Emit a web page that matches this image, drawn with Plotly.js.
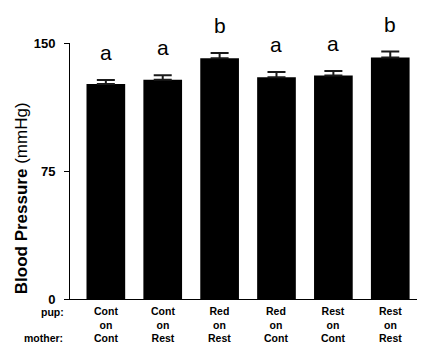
<!DOCTYPE html>
<html>
<head>
<meta charset="utf-8">
<script src="https://cdn.plot.ly/plotly-3.0.1.min.js"></script>
<style>html,body{margin:0;padding:0;background:#fff;}#chart{width:423px;height:346px;}</style>
</head>
<body>
<div id="chart"></div>
<script>
const pup = ['Cont', 'Cont', 'Red', 'Red', 'Rest', 'Rest'];
const mother = ['Cont', 'Rest', 'Rest', 'Cont', 'Cont', 'Rest'];
const bloodPressure = [126, 128.5, 141, 130, 131, 141.5];
const sem = [2.3, 2.6, 3.2, 3, 2.6, 3.5];
const letters = ['a', 'a', 'b', 'a', 'a', 'b'];
const yTicks = [0, 75, 150];

const xIdx = pup.map((_, i) => i);
const FONT = 'Liberation Sans, Arial, sans-serif';

const trace = {
  type: 'bar',
  x: xIdx,
  y: bloodPressure,
  width: 0.68,
  marker: {color: '#000000', line: {width: 0}},
  error_y: {
    type: 'data',
    symmetric: false,
    array: sem,
    arrayminus: sem.map(() => 0),
    color: '#1a1a1a',
    thickness: 2,
    width: 9
  },
  hoverinfo: 'none'
};

const annotations = [];
xIdx.forEach(i => {
  annotations.push({
    x: i, y: bloodPressure[i] + sem[i], xref: 'x', yref: 'y',
    text: letters[i], showarrow: false, yanchor: 'bottom', yshift: 14,
    font: {family: FONT, size: 21, color: '#000'}
  });
  annotations.push({
    x: i, y: 0, xref: 'x', yref: 'paper',
    text: '<b>' + pup[i] + '<br>on<br>' + mother[i] + '</b>',
    showarrow: false, yanchor: 'middle', yshift: -25.5, align: 'center',
    borderpad: 0,
    font: {family: FONT, size: 10.5, color: '#000'}
  });
});
annotations.push({
  x: -0.013, y: 0, xref: 'paper', yref: 'paper',
  text: '<b>pup:</b>', align: 'right',
  showarrow: false, xanchor: 'right', yanchor: 'middle', yshift: -13,
  borderpad: 0,
  font: {family: FONT, size: 10.5, color: '#000'}
});
annotations.push({
  x: -0.018, y: 0, xref: 'paper', yref: 'paper',
  text: '<b>mother:</b>', align: 'right',
  showarrow: false, xanchor: 'right', yanchor: 'middle', yshift: -39,
  borderpad: 0,
  font: {family: FONT, size: 10.5, color: '#000'}
});
annotations.push({
  x: -0.141, y: 0.394, xref: 'paper', yref: 'paper',
  text: '<b>Blood Pressure</b> (mmHg)', textangle: -90,
  showarrow: false, xanchor: 'center', yanchor: 'middle',
  font: {family: FONT, size: 17, color: '#000'}
});

const layout = {
  width: 423, height: 346,
  margin: {l: 70, r: 6, t: 43, b: 47},
  paper_bgcolor: '#fff', plot_bgcolor: '#fff',
  showlegend: false,
  bargap: 0.32,
  xaxis: {
    range: [-0.63, 5.47],
    tickvals: xIdx,
    showticklabels: false,
    ticks: '',
    showgrid: false, zeroline: false,
    showline: true, linecolor: '#000', linewidth: 1
  },
  yaxis: {
    range: [0, 150],
    tickvals: yTicks,
    ticktext: yTicks.map(String),
    ticks: 'outside', ticklen: 5, tickwidth: 1, tickcolor: '#000',
    ticklabelstandoff: 6,
    tickfont: {family: FONT, size: 13, color: '#000', weight: 'bold'},
    showgrid: false, zeroline: false,
    showline: true, linecolor: '#000', linewidth: 1
  },
  annotations: annotations
};

Plotly.newPlot('chart', [trace], layout, {staticPlot: true, displayModeBar: false});
</script>
</body>
</html>
